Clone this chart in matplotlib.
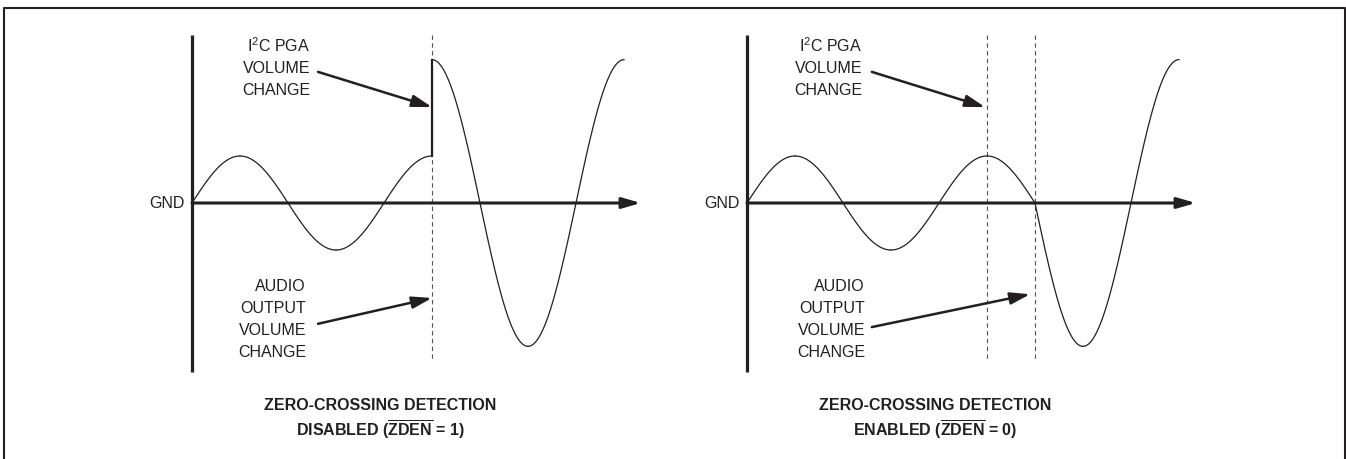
import numpy as np
import matplotlib.pyplot as plt

plt.rcParams['font.family'] = ['Liberation Sans', 'DejaVu Sans']
plt.rcParams['mathtext.fontset'] = 'custom'
plt.rcParams['mathtext.rm'] = 'Liberation Sans'
plt.rcParams['mathtext.bf'] = 'Liberation Sans:bold'

INK = '#231f20'

# waveform knots: time in quarter periods, level in units of the small amplitude
t_disabled = [0, 1, 2, 3, 4, 5, 5, 6, 7, 8, 9]
v_disabled = [0, 1, 0, -1, 0, 1, 3.05, 0, -3.05, 0, 3.05]
t_enabled = [0, 1, 2, 3, 4, 5, 6, 7, 8, 9]
v_enabled = [0, 1, 0, -1, 0, 1, 0, -3.05, 0, 3.05]

# moments marked with dashed lines
marks_disabled = [5]
marks_enabled = [5, 6]

# arrow tips in the same units
i2c_tip_disabled = (5.0, 2.04)
audio_tip_disabled = (5.0, -2.02)
i2c_tip_enabled = (4.96, 2.04)
audio_tip_enabled = (5.9, -1.94)

titles_disabled = ['ZERO-CROSSING DETECTION', r'DISABLED ($\overline{\mathbf{ZDEN}}$ = 1)']
titles_enabled = ['ZERO-CROSSING DETECTION', r'ENABLED ($\overline{\mathbf{ZDEN}}$ = 0)']

i2c_lines = [r'I$^{\mathrm{2}}$C PGA', 'VOLUME', 'CHANGE']
audio_lines = ['AUDIO', 'OUTPUT', 'VOLUME', 'CHANGE']

W, H = 1346, 459
PX_T = 48.0   # pixels per quarter period
PX_V = 47.0   # pixels per unit amplitude
Y0 = 203      # pixel row of GND


def quarter_arc(t0, v0, t1, v1, n=60):
    s = np.linspace(0, 1, n)
    if v0 == 0:
        v = v1 * np.sin(np.pi / 2 * s)
    else:
        v = v0 * np.cos(np.pi / 2 * s)
    return t0 + (t1 - t0) * s, v


def draw_panel(fig, x0, ts, vs, marks, i2c_tip, audio_tip, titles, i2c_x, audio_x, tail_t, audio_tail_v):
    ax = fig.add_axes([0, 0, 1, 1])
    ax.set_xlim(-x0 / PX_T, (W - x0) / PX_T)
    ax.set_ylim(-(H - Y0) / PX_V, Y0 / PX_V)
    ax.axis('off')
    ax.patch.set_alpha(0)

    # axes of the sketch
    ax.plot([0, 0], [3.57, -3.6], color=INK, lw=2.3, solid_capstyle='butt')
    ax.annotate('', xy=(9.35, 0), xytext=(0, 0),
                arrowprops=dict(arrowstyle='-|>,head_length=0.55,head_width=0.16',
                                mutation_scale=20, lw=2.2, color=INK,
                                shrinkA=0, shrinkB=0))
    ax.text(-0.15, 0, 'GND', ha='right', va='center', fontsize=11.5, color=INK)

    # dashed event lines
    for m in marks:
        ax.plot([m, m], [3.57, -3.34], color='#555555', lw=0.8,
                linestyle=(0, (4, 3)))

    # waveform
    for i in range(len(ts) - 1):
        if ts[i] == ts[i + 1]:
            ax.plot([ts[i], ts[i + 1]], [vs[i], vs[i + 1]], color=INK, lw=1.6)
        else:
            tt, vv = quarter_arc(ts[i], vs[i], ts[i + 1], vs[i + 1])
            ax.plot(tt, vv, color=INK, lw=0.9)

    # labels with arrows
    for k, line in enumerate(i2c_lines):
        ax.text(i2c_x, 3.34 - 0.47 * k, line, ha='right', va='center',
                fontsize=11.5, color=INK)
    for k, line in enumerate(audio_lines):
        ax.text(audio_x, -1.77 - 0.47 * k, line, ha='right', va='center',
                fontsize=11.5, color=INK)
    style = dict(arrowstyle='-|>,head_length=0.6,head_width=0.18',
                 mutation_scale=20, lw=1.8, color=INK, shrinkA=0, shrinkB=0)
    ax.annotate('', xy=i2c_tip, xytext=(tail_t, 2.79), arrowprops=style)
    ax.annotate('', xy=audio_tip, xytext=(tail_t, audio_tail_v), arrowprops=style)

    # caption
    ax.text(3.92, -4.30, titles[0], ha='center', va='center', fontsize=11.5,
            fontweight='bold', color=INK)
    ax.text(3.92, -4.83, titles[1], ha='center', va='center', fontsize=11.5,
            fontweight='bold', color=INK)
    return ax


fig = plt.figure(figsize=(W / 100, H / 100), dpi=100)

# frame around the figure (open at the bottom)
frame = fig.add_axes([0, 0, 1, 1])
frame.set_xlim(0, W)
frame.set_ylim(H, 0)
frame.axis('off')
frame.plot([3.5, 3.5, 1345, 1345], [H, 8, 8, H], color=INK, lw=1.5)

draw_panel(fig, 192, t_disabled, v_disabled, marks_disabled,
           i2c_tip_disabled, audio_tip_disabled, titles_disabled,
           2.46, 2.375, 2.625, -2.57)
draw_panel(fig, 747, t_enabled, v_enabled, marks_enabled,
           i2c_tip_enabled, audio_tip_enabled, titles_enabled,
           2.4, 2.46, 2.6, -2.64)

fig.savefig('out.png', dpi=100)
